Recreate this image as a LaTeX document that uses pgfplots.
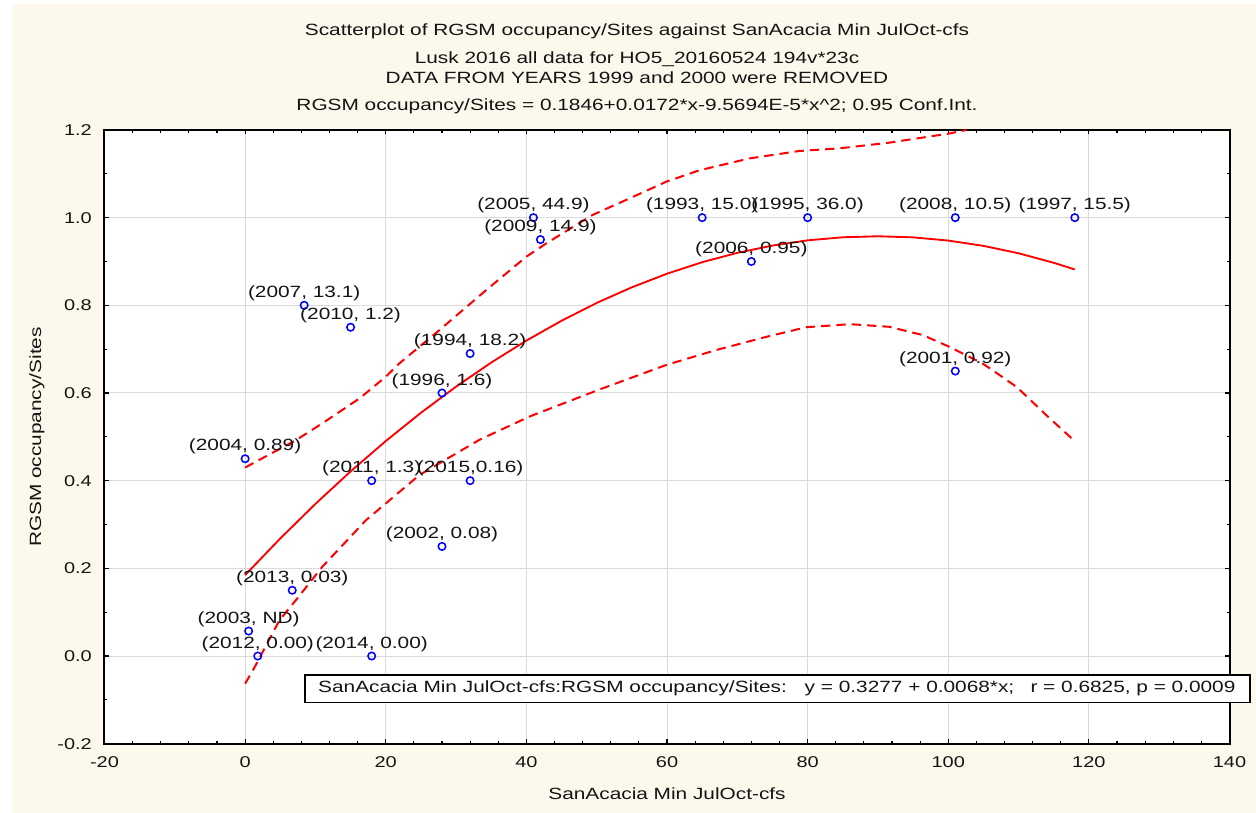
\documentclass[border=0pt]{standalone}
\usepackage{fontspec}
\setmainfont{Liberation Sans}[FakeStretch=1.28]
\usepackage{pgfplots}
\pgfplotsset{compat=1.18}
\usepackage{pgfplotstable}
\definecolor{bgcream}{HTML}{FDF8EC}
\definecolor{gridgray}{HTML}{DADADA}
\definecolor{txt}{HTML}{141414}
\newcommand{\lblfont}{\fontsize{12.2}{14}\selectfont}

\pgfplotstableread[col sep=semicolon, row sep=\\]{
x;y;lab\\
0;0.45;(2004, 0.89)\\
8.4;0.80;(2007, 13.1)\\
15;0.75;(2010, 1.2)\\
32;0.69;(1994, 18.2)\\
28;0.60;(1996, 1.6)\\
18;0.40;(2011, 1.3)\\
32;0.40;(2015,0.16)\\
28;0.25;(2002, 0.08)\\
6.7;0.15;(2013, 0.03)\\
0.5;0.057;(2003, ND)\\
1.8;0.0;(2012, 0.00)\\
18;0.0;(2014, 0.00)\\
41;1.0;(2005, 44.9)\\
42;0.95;(2009, 14.9)\\
65;1.0;(1993, 15.0)\\
80;1.0;(1995, 36.0)\\
72;0.90;(2006, 0.95)\\
101;1.0;(2008, 10.5)\\
118;1.0;(1997, 15.5)\\
101;0.65;(2001, 0.92)\\
}\pts

\begin{document}
\begin{tikzpicture}[x=1pt,y=1pt]
\path[fill=white] (-78.375,-51.975) rectangle (863.625,557.775);
\fill[bgcream] (-69.375,-51.975) rectangle (863.625,554.775);
\begin{axis}[
  at={(0,0)}, anchor=south west,
  scale only axis, width=843.75pt, height=460.3pt,
  xmin=-20, xmax=140, ymin=-0.2, ymax=1.2,
  xtick={-20,0,20,40,60,80,100,120,140},
  ytick={-0.2,0,0.2,0.4,0.6,0.8,1.0,1.2},
  minor x tick num=4, minor y tick num=1,
  tick align=inside,
  major tick length=3.2pt, minor tick length=2.2pt,
  tick style={black, line width=0.8pt},
  grid=major,
  major grid style={gridgray, line width=0.75pt},
  axis line style={black, line width=1.5pt},
  axis background/.style={fill=white},
  /pgf/number format/assume math mode=true,
  tick label style={font=\fontsize{11.7}{13}\selectfont, text=txt},
  xticklabel style={yshift=-6pt},
  yticklabel style={xshift=-6pt, /pgf/number format/.cd, fixed, fixed zerofill, precision=1},
]
% fitted quadratic
\addplot[red, line width=1.4pt] coordinates {
(0,0.1846) (5,0.2682) (10,0.3470) (15,0.4211) (20,0.4903) (25,0.5548)
(30,0.6145) (35,0.6694) (40,0.7195) (45,0.7648) (50,0.8054) (55,0.8411)
(60,0.8721) (65,0.8983) (70,0.9197) (75,0.9363) (80,0.9482) (85,0.9552)
(90,0.9575) (95,0.9550) (100,0.9477) (105,0.9356) (110,0.9187) (115,0.8970)
(118,0.8818)};
% upper confidence band
\addplot[red, line width=1.5pt, dash pattern=on 7pt off 4.5pt] coordinates {
(0,0.430) (7.3,0.493) (11,0.531) (16.3,0.588) (20,0.637) (21.9,0.667)
(27.6,0.743) (34.3,0.835) (40,0.911) (42.8,0.941) (49.4,1.006) (55.1,1.047)
(59.9,1.082) (64.6,1.108) (71.7,1.135) (78.8,1.152) (84.5,1.158) (91.6,1.171)
(100.2,1.192) (102.6,1.200)};
% lower confidence band
\addplot[red, line width=1.5pt, dash pattern=on 7pt off 4.5pt] coordinates {
(0,-0.063) (1.2,-0.030) (4.9,0.082) (7.25,0.128) (11,0.204) (17.2,0.310)
(24.8,0.413) (33.3,0.493) (40.4,0.546) (50.4,0.608) (59.9,0.664) (67,0.698)
(74.1,0.728) (79.8,0.750) (86,0.757) (91.6,0.751) (96.4,0.732) (100.2,0.705)
(104.9,0.667) (106.3,0.652) (109.7,0.614) (111.1,0.593) (113.9,0.550) (118,0.490)};
% data points
\addplot[only marks, mark=o, mark size=2.8pt, blue, mark options={line width=1.15pt},
  point meta=explicit symbolic, nodes near coords,
  nodes near coords style={font=\lblfont, text=txt, anchor=center, yshift=9pt, inner sep=0pt}]
  table[x=x, y=y, meta=lab] {\pts};
\end{axis}
% titles
\node[anchor=base, font=\lblfont, text=txt] at (399.4,530.8) {Scatterplot of RGSM occupancy/Sites against SanAcacia Min JulOct-cfs};
\node[anchor=base, font=\lblfont, text=txt] at (399.4,509.8) {Lusk 2016 all data for HO5\_20160524 194v*23c};
\node[anchor=base, font=\lblfont, text=txt] at (399.4,494.8) {DATA FROM YEARS 1999 and 2000 were REMOVED};
\node[anchor=base, font=\lblfont, text=txt] at (399.4,474.6) {RGSM occupancy/Sites = 0.1846+0.0172*x-9.5694E-5*x\textasciicircum 2; 0.95 Conf.Int.};
% axis labels
\node[anchor=base, font=\lblfont, text=txt] at (421.9,-42.2) {SanAcacia Min JulOct-cfs};
\node[rotate=90, anchor=center, font=\lblfont, text=txt] at (-50.6,230) {RGSM occupancy/Sites};
% regression box
\node[draw=black, fill=white, line width=1pt, minimum width=708.7pt, minimum height=20.5pt, inner sep=0pt] at (504.75,41.3) {};
\node[anchor=west, font=\lblfont, text=txt, inner sep=0pt] at (160.1,41.3) {SanAcacia Min JulOct-cfs:RGSM occupancy/Sites:\hspace{1.1em}y = 0.3277 + 0.0068*x;\hspace{1em}r = 0.6825, p = 0.0009};
\end{tikzpicture}
\end{document}
